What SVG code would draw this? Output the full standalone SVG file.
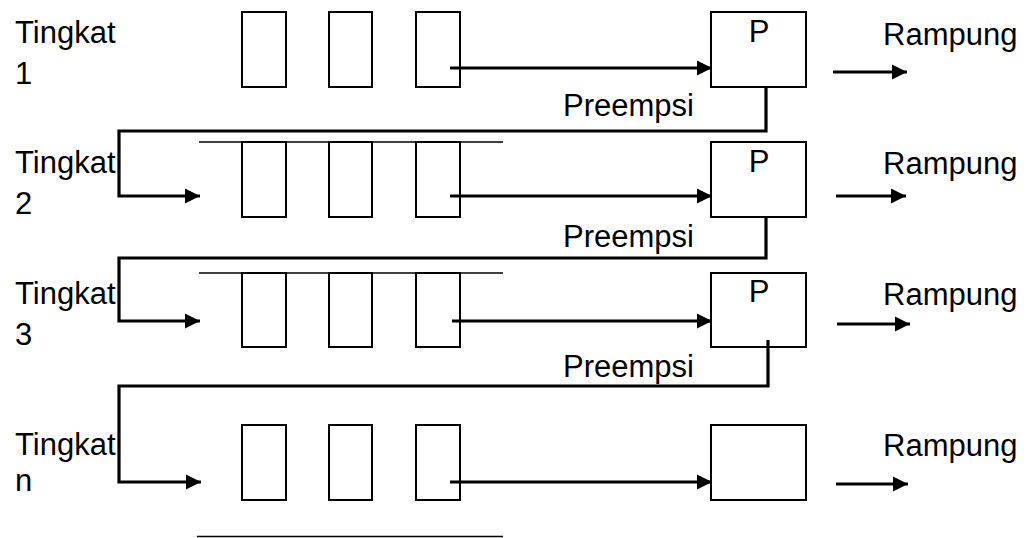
<svg xmlns="http://www.w3.org/2000/svg" width="1030" height="538" viewBox="0 0 1030 538">
  <style>
    .slot { fill: #fff; stroke: #000; stroke-width: 2; }
    .proc { fill: #fff; stroke: #000; stroke-width: 2; }
    .rail { stroke: #000; stroke-width: 1.6; fill: none; }
    .flow { stroke: #000; stroke-width: 3; fill: none; marker-end: url(#head); }
    .loop { stroke: #000; stroke-width: 3.2; fill: none; marker-end: url(#head); }
    text { font-family: "Liberation Sans", Arial, sans-serif; font-size: 31px; fill: #000; }
    .mid { text-anchor: middle; }
  </style>
  <defs>
    <marker id="head" markerUnits="userSpaceOnUse" markerWidth="16" markerHeight="16" refX="15" refY="8" orient="auto">
      <path d="M0,0.5 L15,8 L0,15.5 Z" fill="#000"/>
    </marker>
  </defs>

  <rect width="1030" height="538" fill="#fff"/>

  <!-- level 1 -->
  <g id="level1">
    <text x="15" y="43">Tingkat</text>
    <text x="15" y="84">1</text>
    <rect class="slot" x="242" y="12" width="44" height="75"/>
    <rect class="slot" x="329" y="12" width="43" height="75"/>
    <rect class="slot" x="416" y="12" width="44" height="75"/>
  </g>
  <g id="proc1">
    <rect class="proc" x="711" y="12" width="95" height="75"/>
    <text class="mid" x="759" y="42">P</text>
  </g>
  <g id="done1"><text x="883" y="45">Rampung</text></g>
  <g id="preempt1"><text x="563" y="116">Preempsi</text></g>

  <!-- level 2 -->
  <g id="level2">
    <text x="15" y="173">Tingkat</text>
    <text x="15" y="214">2</text>
    <line class="rail" x1="199" y1="142" x2="503" y2="142"/>
    <rect class="slot" x="242" y="142" width="44" height="75"/>
    <rect class="slot" x="329" y="142" width="43" height="75"/>
    <rect class="slot" x="416" y="142" width="44" height="75"/>
  </g>
  <g id="proc2">
    <rect class="proc" x="711" y="142" width="95" height="75"/>
    <text class="mid" x="759" y="172">P</text>
  </g>
  <g id="done2"><text x="883" y="174">Rampung</text></g>
  <g id="preempt2"><text x="563" y="247">Preempsi</text></g>

  <!-- level 3 -->
  <g id="level3">
    <text x="15" y="304">Tingkat</text>
    <text x="15" y="345">3</text>
    <line class="rail" x1="199" y1="273" x2="503" y2="273"/>
    <rect class="slot" x="242" y="273" width="44" height="74"/>
    <rect class="slot" x="329" y="273" width="43" height="74"/>
    <rect class="slot" x="416" y="273" width="44" height="74"/>
  </g>
  <g id="proc3">
    <rect class="proc" x="711" y="273" width="95" height="74"/>
    <text class="mid" x="759" y="302">P</text>
  </g>
  <g id="done3"><text x="883" y="305">Rampung</text></g>
  <g id="preempt3"><text x="563" y="377">Preempsi</text></g>

  <!-- level n -->
  <g id="leveln">
    <text x="15" y="455">Tingkat</text>
    <text x="15" y="491">n</text>
    <rect class="slot" x="242" y="425" width="44" height="75"/>
    <rect class="slot" x="329" y="425" width="43" height="75"/>
    <rect class="slot" x="416" y="425" width="44" height="75"/>
    <line class="rail" x1="197" y1="536.5" x2="503" y2="536.5"/>
  </g>
  <g id="procn">
    <rect class="proc" x="711" y="425" width="95" height="75"/>
  </g>
  <g id="donen"><text x="883" y="456">Rampung</text></g>

  <!-- connectors -->
  <g id="connectors">
    <!-- queue to processor -->
    <line class="flow" x1="450" y1="68" x2="712" y2="68"/>
    <line class="flow" x1="450" y1="196" x2="712" y2="196"/>
    <line class="flow" x1="452" y1="321" x2="712" y2="321"/>
    <line class="flow" x1="450" y1="482" x2="712" y2="482"/>
    <!-- finished jobs -->
    <line class="flow" x1="833" y1="72" x2="907" y2="72"/>
    <line class="flow" x1="836" y1="196" x2="906" y2="196"/>
    <line class="flow" x1="837" y1="324" x2="910" y2="324"/>
    <line class="flow" x1="836" y1="484" x2="908" y2="484"/>
    <!-- preemption feedback to the next level -->
    <polyline class="loop" points="766,87 766,131 119,131 119,196 200,196"/>
    <polyline class="loop" points="766,217 766,258 119,258 119,321 200,321"/>
    <polyline class="loop" points="768,340 768,386 119,386 119,482 201,482"/>
  </g>
</svg>
